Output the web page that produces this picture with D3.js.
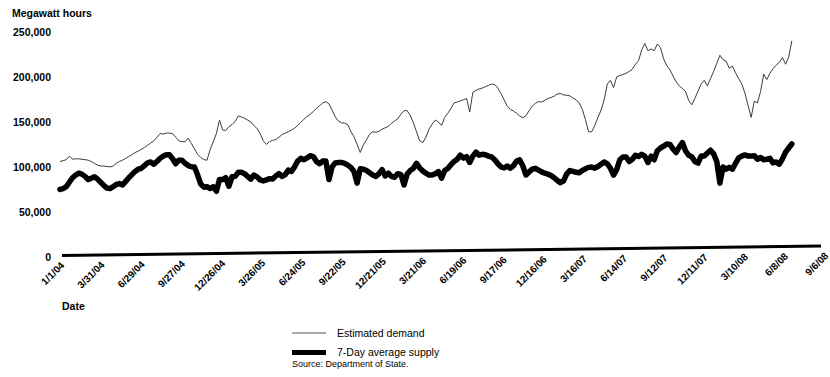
<!DOCTYPE html>
<html>
<head>
<meta charset="utf-8">
<script src="https://cdn.jsdelivr.net/npm/d3@7/dist/d3.min.js"></script>
<style>
  html, body { margin: 0; padding: 0; background: #fff; }
  svg { display: block; font-family: "Liberation Sans", Arial, sans-serif; }
</style>
</head>
<body>
<svg id="chart" width="830" height="377"></svg>
<script>
// Weekly readings starting 1 Jan 2004, in thousands of megawatt hours
const startDate = "2004-01-01";
const endDate = "2008-09-06";

const demand = [
  106, 107, 108, 112, 108.5, 109, 109, 108.5, 108, 107.5,
  106, 104, 102, 101, 101, 100.5, 100, 101, 104, 106,
  107.5, 109.5, 111.5, 113.5, 116, 117.5, 119.5, 121.5, 124, 126.5,
  129, 133, 137, 136.5, 137.5, 137.5, 137, 133, 129, 128,
  128, 132, 126, 120, 114, 110.5, 108, 107.5, 119, 128,
  137, 152, 141, 140.5, 144.5, 147, 150.5, 156.5, 155.5, 154,
  152, 150, 146, 142.5, 137, 129, 125, 128, 129.5, 130.5,
  133, 135.8, 137.5, 139, 141, 143, 146, 149.5, 153, 156,
  158.5, 161.5, 165, 168, 171, 172.5, 170, 163, 155.5, 151,
  149, 148.5, 147, 139.5, 133.5, 125, 116, 124.5, 130, 136.5,
  139, 138.5, 139.5, 142, 143.5, 145, 148.5, 151, 153.5, 158.5,
  162.5, 162.5, 157, 149, 139, 129, 127, 133, 142, 147.5,
  152, 150, 146, 155, 159.5, 165, 171, 172, 173.5, 174.5,
  176, 161, 182.5, 185, 186.5, 187.5, 189, 190.5, 192, 191.5,
  187.5, 181.5, 174.5, 167.5, 164, 162, 159.5, 156.5, 154.5, 157,
  162.5, 167.5, 170.5, 172.5, 172, 174, 176, 177, 178.5, 181,
  181.5, 180, 179.5, 179, 176.5, 174.5, 171, 164, 152.5, 139,
  139, 146, 155, 163, 174.5, 192, 196, 188, 200, 201.5,
  202.5, 204, 206, 208.5, 214, 218, 230, 237, 229, 231,
  229, 236.5, 232.5, 220, 212.5, 208, 201, 194.5, 190, 187,
  184, 174, 169, 176, 184, 192, 196, 190, 198, 206,
  215, 224, 219, 217.5, 209.5, 212, 204.5, 198, 192, 182,
  168.5, 155, 173, 171, 183.5, 203, 197, 204, 209, 213,
  216, 221.5, 214, 222, 240
];

const supply = [
  75, 76, 78, 83, 88, 91, 93, 92, 89.5, 86,
  87.5, 89, 86.5, 83, 79.5, 76.5, 76, 78, 80.5, 81.5,
  80, 84, 88, 91.5, 95, 97.5, 98.5, 101.5, 104.5, 105.5,
  103, 106, 109.5, 112, 113.5, 113.5, 109, 103.5, 107.5, 107.5,
  104, 101.5, 100.2, 99.8, 91, 81, 77.5, 78, 76, 78,
  73, 86, 86, 88, 78.5, 89, 89.5, 94, 94, 92.5,
  89.5, 86.5, 91, 89, 85.5, 84.5, 85.5, 87, 86.5, 90,
  92.5, 89.5, 91.5, 96.5, 95, 100, 106.5, 109.5, 108, 110,
  112.5, 111.5, 106, 103.5, 106.5, 106.5, 86, 100, 104.5, 105,
  105, 104, 102, 99.5, 95, 82, 98, 97.5, 96, 93.5,
  91, 89.5, 92.5, 97, 90, 93, 89.5, 88.5, 92.5, 91.5,
  80, 92, 96, 98.5, 104, 99, 95.5, 93, 91, 91,
  92.5, 94.8, 87.5, 96, 98.2, 102.5, 106, 108.5, 113, 109.8,
  111.4, 105, 112, 116.5, 113, 114, 113.5, 112, 111, 108,
  103.5, 100, 98.8, 101, 98.5, 101.5, 106.5, 107.8, 101, 91,
  94.5, 97.5, 98.5, 96.5, 94.5, 93, 92, 90.5, 88, 85,
  82.5, 84.5, 92, 96, 95, 94, 93.5, 96, 97.8, 99.5,
  99.8, 98.6, 100.5, 103, 105.5, 103.5, 98.5, 91, 97, 108,
  111, 111, 106, 108.5, 113, 111.5, 114, 112, 105, 112,
  108, 118, 121, 123, 125.5, 125, 120, 116, 122, 127,
  118, 113, 111.4, 106, 104.2, 112, 112, 115.5, 118.5, 114.5,
  106, 82, 100, 97.5, 99.5, 97.5, 104, 110, 112, 113.3,
  112, 112, 112.5, 108.5, 110.5, 108, 108.5, 109.5, 104.5, 105.5,
  103, 109, 116.5, 121, 125.5
];

const xTickLabels = [
  "1/1/04", "3/31/04", "6/29/04", "9/27/04", "12/26/04", "3/26/05",
  "6/24/05", "9/22/05", "12/21/05", "3/21/06", "6/19/06", "9/17/06",
  "12/16/06", "3/16/07", "6/14/07", "9/12/07", "12/11/07", "3/10/08",
  "6/8/08", "9/6/08"
];
const yTicks = [0, 50, 100, 150, 200, 250];

const seriesNames = ["Estimated demand", "7-Day average supply"];
const sourceNote = "Source: Department of State.";

const svg = d3.select("#chart");
const parseIso = d3.timeParse("%Y-%m-%d");
const parseTick = d3.timeParse("%m/%d/%y");
const start = parseIso(startDate);

const weekDates = demand.map((_, i) => d3.timeDay.offset(start, 7 * i));

const x = d3.scaleTime()
  .domain([start, parseIso(endDate)])
  .range([60, 824]);

const y = d3.scaleLinear()
  .domain([0, 250])
  .range([257, 31.8]);

const fmt = d3.format(",");

// Title of the value axis
svg.append("text")
  .attr("x", 12).attr("y", 17)
  .attr("font-size", 10.5).attr("font-weight", "bold")
  .text("Megawatt hours");

// Value labels
svg.append("g").selectAll("text")
  .data(yTicks)
  .join("text")
  .attr("x", 51)
  .attr("y", d => y(d) + 1)
  .attr("text-anchor", "end")
  .attr("dominant-baseline", "middle")
  .attr("font-size", 10.5).attr("font-weight", "bold")
  .text(d => fmt(d * 1000));

// Baseline, drawn with the slight tilt of the printed axis
const x0 = x.range()[0], x1 = x.range()[1];
svg.append("line")
  .attr("x1", x0 + 2).attr("y1", y(0) - 1.5)
  .attr("x2", x1 - 3).attr("y2", y(0) - 11)
  .attr("stroke", "#000")
  .attr("stroke-width", 3);

// Date labels, rotated
const tilt = (y(0) - 1.5 - (y(0) - 11)) / (x1 - x0);
svg.append("g").selectAll("text")
  .data(xTickLabels)
  .join("text")
  .attr("transform", d => {
    const px = x(parseTick(d));
    return `translate(${px + 5},${266 - tilt * (px - x0)}) rotate(-45)`;
  })
  .attr("text-anchor", "end")
  .attr("font-size", 10).attr("font-weight", "bold")
  .text(d => d);

svg.append("text")
  .attr("x", 62).attr("y", 310)
  .attr("font-size", 10.5).attr("font-weight", "bold")
  .text("Date");

// Series lines
const line = d3.line()
  .x((d, i) => x(weekDates[i]))
  .y(d => y(d));

svg.append("path")
  .datum(supply)
  .attr("fill", "none")
  .attr("stroke", "#000")
  .attr("stroke-width", 5.5)
  .attr("stroke-linejoin", "round")
  .attr("stroke-linecap", "round")
  .attr("d", line);

svg.append("path")
  .datum(demand)
  .attr("fill", "none")
  .attr("stroke", "#3c3c3c")
  .attr("stroke-width", 1)
  .attr("stroke-linejoin", "round")
  .attr("d", line);

// Legend
const legend = svg.append("g");
const legendRows = [
  { name: seriesNames[0], y: 333, stroke: "#555", width: 1 },
  { name: seriesNames[1], y: 352.5, stroke: "#000", width: 5 }
];
legendRows.forEach(r => {
  legend.append("line")
    .attr("x1", 292).attr("x2", 326)
    .attr("y1", r.y).attr("y2", r.y)
    .attr("stroke", r.stroke)
    .attr("stroke-width", r.width);
  legend.append("text")
    .attr("x", 337).attr("y", r.y + 3.8)
    .attr("font-size", 10.5)
    .text(r.name);
});
legend.append("text")
  .attr("x", 292).attr("y", 366.5)
  .attr("font-size", 9)
  .text(sourceNote);
</script>
</body>
</html>
